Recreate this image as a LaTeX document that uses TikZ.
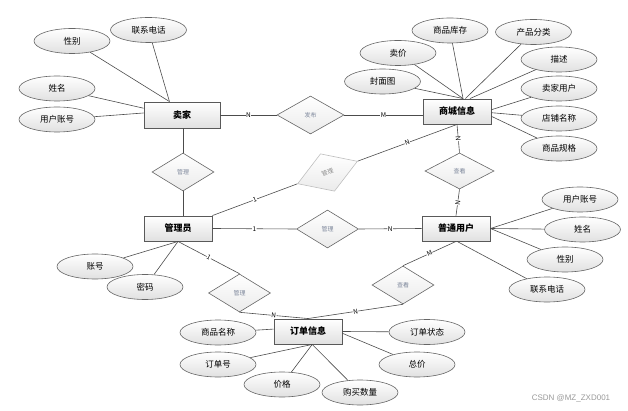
\documentclass[tikz,border=0pt]{standalone}
\usepackage{fontspec}
\setmainfont{Noto Sans CJK SC}
\newfontfamily\wmfont{Liberation Sans}
\usetikzlibrary{shapes.geometric}
\definecolor{relgray}{RGB}{125,135,155}

\begin{document}
\begin{tikzpicture}[x=1pt,y=-1pt,
    entity/.style={draw=black!65,line width=0.9pt,top color=white,bottom color=black!12,minimum width=68pt,minimum height=25pt,inner sep=0pt,font=\fontsize{9}{10}\selectfont\bfseries},
    attr/.style={ellipse,draw=black!60,line width=0.6pt,top color=white,bottom color=black!12,minimum width=76pt,minimum height=25pt,inner sep=0pt,font=\fontsize{8.5}{10}\selectfont},
    rel/.style={diamond,draw=black!60,line width=0.6pt,top color=white,bottom color=black!8,minimum width=62pt,minimum height=38pt,inner sep=0pt,text=relgray,font=\fontsize{6}{7}\selectfont},
    faded/.style={draw=black!25,text=black!45},
    lnk/.style={draw=black!70,line width=0.6pt},
    card/.style={midway,sloped,fill=white,inner sep=0.4pt,font=\fontsize{6.5}{7}\selectfont}]
\useasboundingbox (0,0) rectangle (628,411);

\node[entity,minimum width=76pt,minimum height=26pt] (mj) at (182,115) {卖家};
\node[entity] (sc) at (457,111.5) {商城信息};
\node[entity] (gly) at (178,228.5) {管理员};
\node[entity] (pt) at (456,228.5) {普通用户};
\node[entity] (dd) at (308,331.5) {订单信息};

\node[rel,minimum width=67pt] (fb) at (310.5,115) {发布};
\node[rel] (gl1) at (183,172) {管理};
\node[rel,faded,rotate=20.6,minimum width=64pt,minimum height=40pt] (gl2) at (327.5,172.5) {管理};
\node[rel] (gl3) at (327.5,229) {管理};
\node[rel,minimum width=69pt,minimum height=36pt] (ck1) at (459.5,171) {查看};
\node[rel] (ck2) at (403,285) {查看};
\node[rel] (gl4) at (239.5,293) {管理};

\node[attr] (mjxb) at (72,41) {性别};
\node[attr] (mjdh) at (148.5,30) {联系电话};
\node[attr] (mjxm) at (57,88.5) {姓名};
\node[attr] (mjzh) at (57,119.5) {用户账号};

\node[attr] (sckc) at (450,30.5) {商品库存};
\node[attr] (scfl) at (533.5,32) {产品分类};
\node[attr] (scmj) at (398,53) {卖价};
\node[attr] (scfm) at (382.5,81.5) {封面图};
\node[attr] (scms) at (559,59.5) {描述};
\node[attr] (scyh) at (559,88.5) {卖家用户};
\node[attr] (scdp) at (559,118.5) {店铺名称};
\node[attr] (scgg) at (559,148.5) {商品规格};

\node[attr] (ptzh) at (580,199.5) {用户账号};
\node[attr] (ptxm) at (582.5,229.5) {姓名};
\node[attr] (ptxb) at (565,259.5) {性别};
\node[attr] (ptdh) at (547,289.5) {联系电话};

\node[attr] (glzh) at (95,266.5) {账号};
\node[attr] (glmm) at (145,287) {密码};

\node[attr] (ddmc) at (218,332.5) {商品名称};
\node[attr] (ddh) at (218,364.5) {订单号};
\node[attr] (ddjg) at (282,384.5) {价格};
\node[attr] (ddsl) at (360,392.5) {购买数量};
\node[attr] (ddzt) at (427,332) {订单状态};
\node[attr] (ddzj) at (417,364.5) {总价};

\node[font=\wmfont\fontsize{8}{9}\selectfont,text=black!40] (wm) at (571,398) {CSDN @MZ\_ZXD001};

\draw[lnk] (mj.east) -- (fb.west) node[card]{N};
\draw[lnk] (fb.east) -- (fb.east -| sc.west) node[card]{M};
\draw[lnk] (gl1.north |- mj.south) -- (gl1.north);
\draw[lnk] (gl1.south) -- (gl1.south |- gly.north);
\draw[lnk] (gly.north east) -- (gl2.west) node[card]{1};
\draw[lnk] (gl2.east) -- (sc.south) node[card]{N};
\draw[lnk] (gly.east) -- (gl3.west) node[card]{1};
\draw[lnk] (gl3.east) -- (pt.west) node[card]{N};
\draw[lnk] (sc.south) -- (ck1.north) node[card]{N};
\draw[lnk] (ck1.south) -- (pt.north) node[card]{N};
\draw[lnk] (gly.south) -- (gl4.north) node[card]{1};
\draw[lnk] (gl4.south) -- (dd.north) node[card]{N};
\draw[lnk] (ck2.south) -- (dd.north) node[card]{N};
\draw[lnk] (ck2.north) -- (pt.south) node[card]{M};

\draw[lnk] (mjxb) -- (mj.133);
\draw[lnk] (mjdh) -- (mj.133);
\draw[lnk] (mjxm) -- (mj.170);
\draw[lnk] (mjzh) -- (mj.177);

\draw[lnk] (sckc) -- (sc.65);
\draw[lnk] (scfl) -- (sc.57);
\draw[lnk] (scmj) -- (sc.65);
\draw[lnk] (scfm) -- (sc.65);
\draw[lnk] (scms) -- (sc.45);
\draw[lnk] (scyh) -- (sc.3);
\draw[lnk] (scdp) -- (sc.-2);
\draw[lnk] (scgg) -- (sc.-8);

\draw[lnk] (ptzh) -- (pt.east);
\draw[lnk] (ptxm) -- (pt.east);
\draw[lnk] (ptxb) -- (pt.east);
\draw[lnk] (ptdh) -- (pt.-85);

\draw[lnk] (glzh) -- (gly.south);
\draw[lnk] (glmm) -- (gly.south);

\draw[lnk] (ddmc) -- (dd.176);
\draw[lnk] (ddh) -- (dd.-72);
\draw[lnk] (ddjg) -- (dd.-72);
\draw[lnk] (ddsl) -- (dd.-72);
\draw[lnk] (ddzt) -- (dd.east);
\draw[lnk] (ddzj) -- (dd.-3);
\end{tikzpicture}
\end{document}
